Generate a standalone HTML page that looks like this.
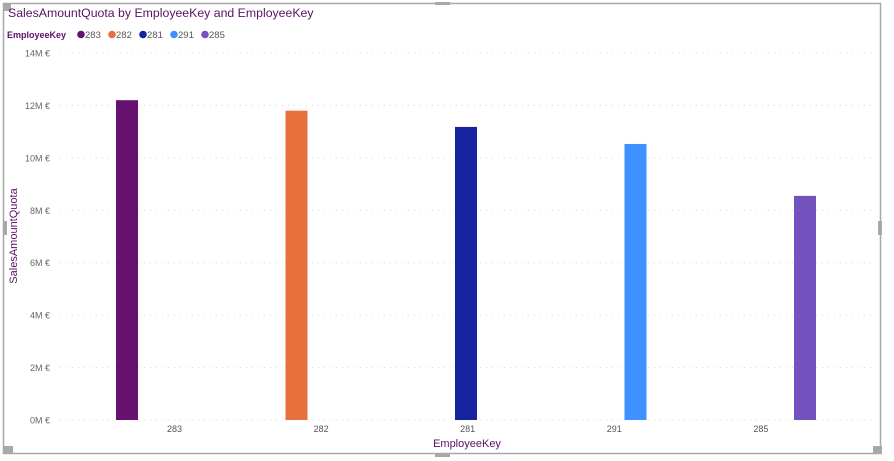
<!DOCTYPE html>
<html><head><meta charset="utf-8"><style>
html,body{margin:0;padding:0;background:#fff;width:894px;height:461px;overflow:hidden;font-family:"Liberation Sans","DejaVu Sans",sans-serif}
</style></head><body>
<svg id="chart" width="894" height="461" xmlns="http://www.w3.org/2000/svg">
<rect x="3.5" y="3.5" width="877" height="450" fill="none" stroke="#a8a8a8" stroke-width="1.5"/>
<rect x="3" y="3" width="8" height="8" fill="#a8a8a8"/>
<rect x="3" y="446" width="10" height="8" fill="#a8a8a8"/>
<rect x="873" y="446" width="9" height="8" fill="#a8a8a8"/>
<rect x="3" y="221" width="4" height="14" fill="#a8a8a8"/>
<rect x="878" y="221" width="4" height="14" fill="#a8a8a8"/>
<rect x="435" y="453" width="15" height="4" fill="#a8a8a8"/>
<rect x="435" y="2" width="15" height="3" fill="#a8a8a8"/>
<text x="8" y="17" font-size="12.3" fill="#5b1067">SalesAmountQuota by EmployeeKey and EmployeeKey</text>
<g id="legend"><text x="7" y="38" font-size="9" font-weight="bold" fill="#5b1067">EmployeeKey</text></g>
<g id="grid"></g><g id="bars"></g><g id="axes"></g>
<text x="467" y="447" font-size="11" fill="#5b1067" text-anchor="middle">EmployeeKey</text>
<text transform="translate(17,236) rotate(-90)" font-size="11" fill="#5b1067" text-anchor="middle">SalesAmountQuota</text>
</svg>
<script>
const categories=["283","282","281","291","285"];
const values=[12.2,11.8,11.18,10.53,8.55];
const colors=["#661070","#e6713c","#16239f","#3f91ff","#7352bd"];
const yTicks=[0,2,4,6,8,10,12,14];
const NS="http://www.w3.org/2000/svg";
const y0=420,yTop=53,yMax=14,xStart=90,band=169.5,plotRight=875,labelStart=174.5,labelStep=146.6;
function y(v){return y0-(v/yMax)*(y0-yTop);}
function xBand(i){return xStart+i*band;}
function mk(t,a,p){const e=document.createElementNS(NS,t);for(const k in a)e.setAttribute(k,a[k]);p.appendChild(e);return e;}
const grid=document.getElementById('grid'),bars=document.getElementById('bars'),axes=document.getElementById('axes'),legend=document.getElementById('legend');
yTicks.forEach(t=>{
 const l=mk('line',{x1:60,x2:plotRight,y1:y(t),y2:y(t),stroke:'#d8d8d8','stroke-width':1,'stroke-dasharray':'1 5'},grid);
 
 
 const tx=mk('text',{x:50,y:y(t)+3.5,'font-size':9,fill:'#666','text-anchor':'end'},axes);
 tx.textContent=t+'M €';
 
 
});
categories.forEach((c,i)=>{
 const r=mk('rect',{x:xBand(i)+26,y:y(values[i]),width:22,height:y0-y(values[i]),fill:colors[i]},bars);
 
 
 const tx=mk('text',{x:labelStart+i*labelStep,y:432,'font-size':9,fill:'#555','text-anchor':'middle'},axes);
 tx.textContent=c;
 
 
 const lx=81+i*31;
 const d=mk('circle',{cx:lx,cy:34.5,r:3.8,fill:colors[i]},legend);
 
 
 const lt=mk('text',{x:lx+4,y:38,'font-size':9.5,fill:'#555'},legend);
 lt.textContent=c;
 
 
});
</script>
</body></html>
